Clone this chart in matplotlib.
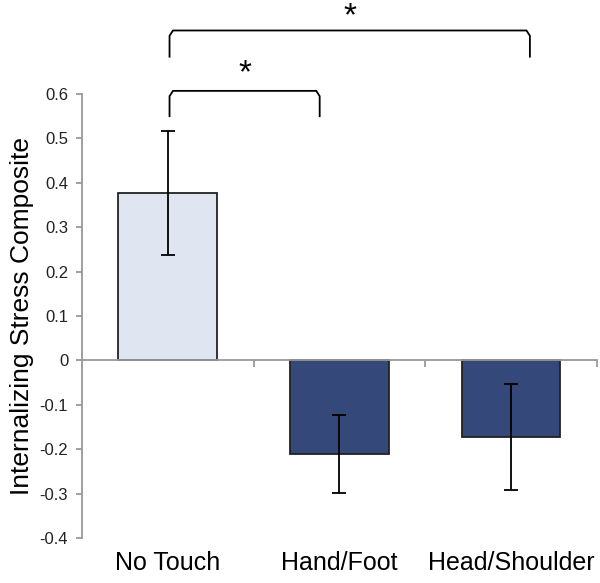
import matplotlib
matplotlib.use("Agg")
import matplotlib.pyplot as plt
import matplotlib.transforms as mtransforms

plt.rcParams['font.family'] = ['Liberation Sans', 'DejaVu Sans']

# data
groups = ["No Touch", "Hand/Foot", "Head/Shoulder"]
means = [0.377, -0.21, -0.173]
errors = [0.14, 0.088, 0.12]
bar_colors = ["#dfe5f1", "#34487a"]
yticks = [-0.4, -0.3, -0.2, -0.1, 0, 0.1, 0.2, 0.3, 0.4, 0.5, 0.6]
ytick_labels = ["-0.4", "-0.3", "-0.2", "-0.1", "0", "0.1", "0.2", "0.3", "0.4", "0.5", "0.6"]
# significance brackets: (left x, right x, top y, leg bottom y, star y)
brackets = [(0.01, 2.11, 0.743, 0.684, 0.775), (0.01, 0.885, 0.607, 0.55, 0.645)]

fig = plt.figure(figsize=(6, 5.83), dpi=100)
ax = fig.add_axes([0.1367, 0.0772, 0.858, 0.7616])

x = list(range(len(groups)))
colors = [bar_colors[0]] + [bar_colors[1]] * (len(groups) - 1)
ax.bar(x, means, width=0.575, color=colors, edgecolor="#222222", linewidth=1.3, zorder=2)
ax.errorbar(x, means, yerr=errors, fmt="none", ecolor="black", elinewidth=1.3,
            capsize=5, capthick=1.3, zorder=3)

ax.set_xlim(-0.5, 2.5)
ax.set_ylim(-0.4, 0.6)

# axes styling (excel look)
for s in ["top", "right"]:
    ax.spines[s].set_visible(False)
ax.spines["bottom"].set_position(("data", 0))
ax.spines["bottom"].set_color("#999999")
ax.spines["left"].set_color("#999999")
ax.spines["bottom"].set_linewidth(1.3)
ax.spines["left"].set_linewidth(1.3)

ax.set_yticks(yticks)
ax.set_yticklabels(ytick_labels, fontsize=12, color="#222222")
ax.tick_params(axis="y", direction="out", length=4, width=1.3, color="#999999", pad=6)
ax.set_xticks([0.5, 1.5, 2.5])
ax.set_xticklabels([])
ax.tick_params(axis="x", direction="out", length=5, width=1.3, color="#999999")

# category labels under the plot
trans = mtransforms.blended_transform_factory(ax.transData, ax.transAxes)
for xi, name in zip(x, groups):
    ax.text(xi, -0.057, name, transform=trans, ha="center", va="center", fontsize=18)

ax.set_ylabel("Internalizing Stress Composite", fontsize=19, labelpad=4)

# brackets with stars
for xa, xb, top, bottom, star_y in brackets:
    ax.plot([xa, xa, xa + 0.02, xb - 0.02, xb, xb],
            [bottom, top - 0.012, top, top, top - 0.012, bottom],
            color="black", linewidth=1.3, clip_on=False)
    ax.text((xa + xb) / 2, star_y, "*", ha="center", va="center", fontsize=24,
            clip_on=False)

fig.savefig("out.png", dpi=100)
